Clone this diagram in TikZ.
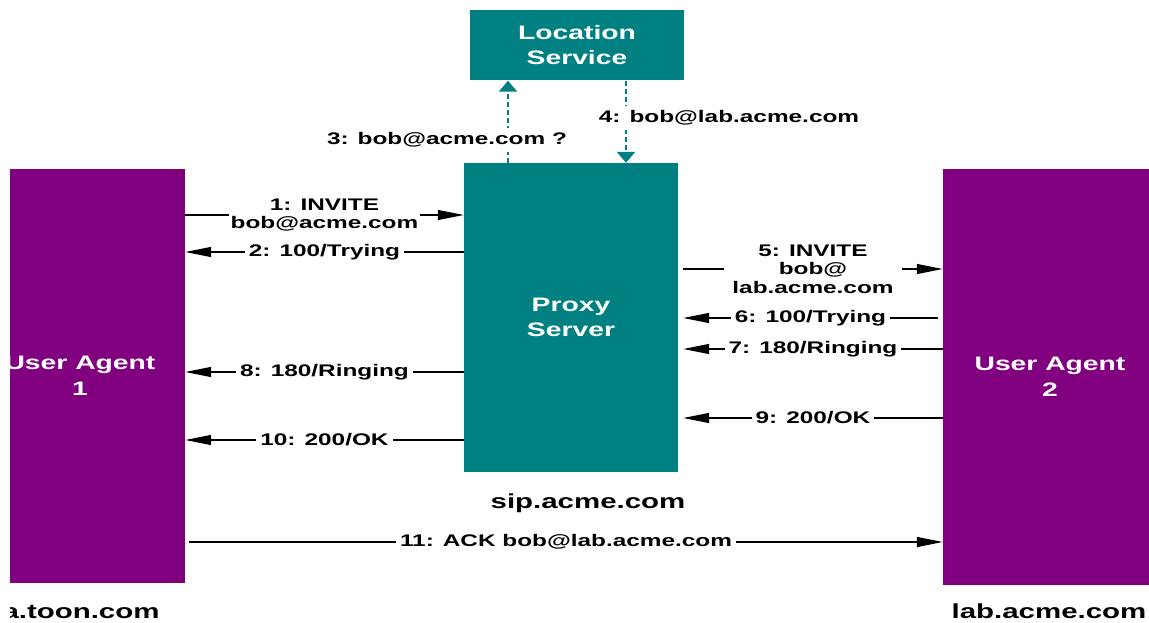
\documentclass[tikz,border=0pt]{standalone}
\usepackage{fontspec}
\setmainfont{Liberation Sans}[FakeStretch=1.45]
\usetikzlibrary{arrows.meta}

\definecolor{srvteal}{RGB}{0,128,128}
\definecolor{uapurple}{RGB}{128,0,128}

\tikzset{
  server/.style={fill=srvteal, text=white, align=center, inner sep=0pt,
    font=\bfseries\fontsize{19.5}{25}\selectfont},
  agent/.style={fill=uapurple, text=white, align=center, inner sep=0pt,
    font=\bfseries\fontsize{19.5}{26}\selectfont},
  msg/.style={fill=white, text=black, align=center, inner xsep=4pt, inner ysep=2pt,
    font=\bfseries\fontsize{16.8}{18.5}\selectfont},
  hostname/.style={text=black, font=\bfseries\fontsize{20.3}{24}\selectfont},
  sipmsg/.style={draw=black, line width=1.3pt,
    -{Triangle[length=26pt,width=10pt]}},
  lookup/.style={draw=srvteal, line width=2.4pt, dash pattern=on 5pt off 3pt,
    -{Triangle[length=11pt,width=18pt]}}
}

\begin{document}
\begin{tikzpicture}[x=1pt,y=-1pt]
  \useasboundingbox (0,0) rectangle (1149,623);

  % servers
  \node[server, minimum width=214pt, minimum height=70pt] (loc) at (577,45.5) {Location\\Service};
  \node[server, minimum width=214pt, minimum height=309pt] (proxy) at (571,317.5) {Proxy\\Server};

  % user agents (the left one is cut by the page margin)
  \begin{scope}
    \clip (10,0) rectangle (1149,623);
    \node[agent, minimum width=210pt, minimum height=414pt] (ua1) at (80,376) {User Agent\\1};
    \node[hostname] (ua1dom) at (81,612) {a.toon.com};
  \end{scope}
  \node[agent, minimum width=214pt, minimum height=416pt] (ua2) at (1050,377) {User Agent\\2};

  % location lookup
  \draw[lookup] (proxy.north -| 508,0) -- (loc.south -| 508,0);
  \draw[lookup] (loc.south -| 626,0) -- (proxy.north -| 626,0);
  \node[msg, inner ysep=5pt] (q3) at (447,140) {3: bob@acme.com ?};
  \node[msg, inner ysep=5pt] (a4) at (729,118) {4: bob@lab.acme.com};

  % SIP messages
  \draw[sipmsg] (ua1.east |- 0,215) -- node[msg, inner xsep=2pt, inner ysep=0pt] (m1) {1: INVITE\\bob@acme.com} (proxy.west |- 0,215);
  \draw[sipmsg] (proxy.west |- 0,252) -- node[msg] (m2) {2: 100/Trying} (ua1.east |- 0,252);
  \draw[sipmsg] ([xshift=5pt]proxy.east |- 0,269) -- node[msg, inner xsep=8pt, inner ysep=0pt] (m5) {5: INVITE\\bob@\\lab.acme.com} (ua2.west |- 0,269);
  \draw[sipmsg] ([xshift=-5pt]ua2.west |- 0,318) -- node[msg] (m6) {6: 100/Trying} ([xshift=5pt]proxy.east |- 0,318);
  \draw[sipmsg] (ua2.west |- 0,349) -- node[msg] (m7) {7: 180/Ringing} ([xshift=5pt]proxy.east |- 0,349);
  \draw[sipmsg] (proxy.west |- 0,372) -- node[msg] (m8) {8: 180/Ringing} (ua1.east |- 0,372);
  \draw[sipmsg] (ua2.west |- 0,418) -- node[msg] (m9) {9: 200/OK} ([xshift=5pt]proxy.east |- 0,418);
  \draw[sipmsg] (proxy.west |- 0,440) -- node[msg] (m10) {10: 200/OK} (ua1.east |- 0,440);
  \draw[sipmsg] ([xshift=4pt]ua1.east |- 0,542) -- node[msg, inner xsep=4pt] (m11) {11: ACK bob@lab.acme.com} (ua2.west |- 0,542);

  % host names
  \node[hostname] (proxydom) at (588,503) {sip.acme.com};
  \node[hostname] (ua2dom) at (1049,611) {lab.acme.com};
\end{tikzpicture}
\end{document}
